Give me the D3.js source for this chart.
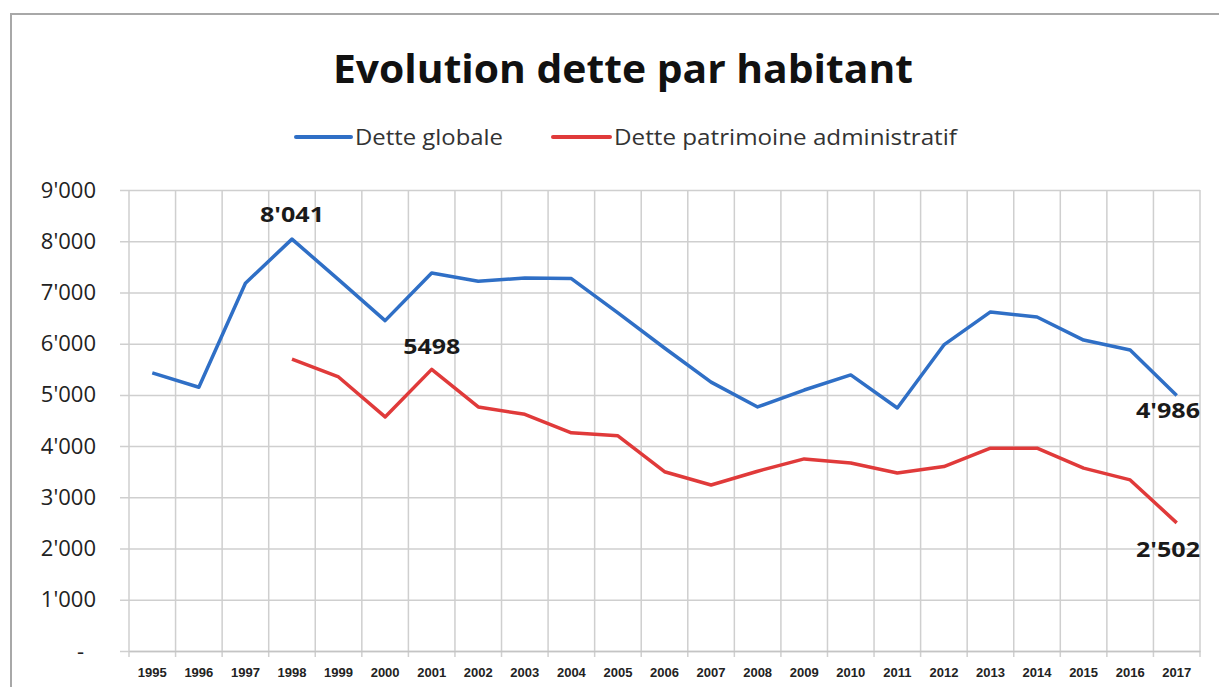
<!DOCTYPE html>
<html><head><meta charset="utf-8">
<script src="https://cdn.jsdelivr.net/npm/d3@7"></script>
<style>html,body{margin:0;padding:0;background:#fff;}svg{display:block;}</style>
</head><body>
<svg id="c" width="1219" height="687"></svg>
<script>
const years = ["1995","1996","1997","1998","1999","2000","2001","2002","2003","2004","2005","2006","2007","2008","2009","2010","2011","2012","2013","2014","2015","2016","2017"];
const detteGlobale = [5430,5150,7180,8041,7250,6450,7380,7220,7280,7270,6600,5915,5250,4765,5095,5390,4745,5975,6620,6520,6070,5875,4986];
const detteAdmin = [null,null,null,5700,5350,4570,5498,4765,4620,4260,4200,3500,3240,3510,3750,3670,3475,3600,3960,3960,3570,3340,2502];
const yTicks = [0,1000,2000,3000,4000,5000,6000,7000,8000,9000];
const seriesNames = ["Dette globale","Dette patrimoine administratif"];
const labels = [
  {series:0, year:"1998", text:"8'041", pos:"above", dy:-17},
  {series:1, year:"2001", text:"5498", pos:"above", dy:-15},
  {series:0, year:"2017", text:"4'986", pos:"right", dy:22},
  {series:1, year:"2017", text:"2'502", pos:"right", dy:34}
];
const colors = ["#2f6fc6","#e03a3a"];

const svg = d3.select("#c");
const fontMain = "'Open Sans','Noto Sans',sans-serif";

// frame
svg.append("rect").attr("x",11).attr("y",14).attr("width",1230).attr("height",700)
  .attr("fill","none").attr("stroke","#a8a8a8").attr("stroke-width",2);

const x = d3.scaleBand().domain(years).range([129,1200]).padding(0);
const y = d3.scaleLinear().domain([0,9000]).range([651,190]);
const cx = d => x(d)+x.bandwidth()/2;

const loc = d3.formatLocale({decimal:".",thousands:"'",grouping:[3],currency:["",""]});
const fmt = loc.format(",.0f");

// horizontal grid + y axis
const gy = svg.append("g").attr("transform","translate(129,0)")
  .call(d3.axisLeft(y).tickValues(yTicks).tickSize(0).tickPadding(33)
    .tickFormat(d => d===0 ? "-" : fmt(d)));
gy.select(".domain").remove();
gy.selectAll(".tick text").attr("font-family",fontMain).attr("font-size",22).attr("fill","#222")
  .attr("dx", d => d===0 ? -12 : 0);
gy.selectAll(".tick").append("line").attr("x1",-9).attr("x2",1071)
  .attr("stroke","#cfcfcf").attr("stroke-width",1.5);

// vertical grid
const vx = years.map(d=>x(d)).concat([1200]);
svg.append("g").selectAll("line").data(vx).join("line")
  .attr("x1",d=>d).attr("x2",d=>d).attr("y1",y(9000)).attr("y2",657)
  .attr("stroke","#cfcfcf").attr("stroke-width",1.5);

// x axis labels
const gx = svg.append("g").attr("transform","translate(0,651)")
  .call(d3.axisBottom(x).tickSize(0).tickPadding(17));
gx.select(".domain").attr("stroke","#c4c4c4").attr("stroke-width",1.5);
gx.selectAll(".tick text").attr("font-family","'Liberation Sans',sans-serif").attr("font-size",13)
  .attr("font-weight","bold").attr("fill","#222");

// lines
const line = d3.line().defined(d=>d.v!=null).x(d=>cx(d.year)).y(d=>y(d.v));
[detteGlobale,detteAdmin].forEach((arr,i)=>{
  svg.append("path").datum(years.map((yr,j)=>({year:yr,v:arr[j]})))
    .attr("d",line).attr("fill","none").attr("stroke",colors[i]).attr("stroke-width",3.5)
    .attr("stroke-linejoin","round");
});

// data labels
const sArr=[detteGlobale,detteAdmin];
labels.forEach(l=>{
  const v = sArr[l.series][years.indexOf(l.year)];
  const right = l.pos==="right";
  const tx = right ? x(l.year)+x.bandwidth() : cx(l.year);
  const t = svg.append("text").attr("x",tx).attr("y",y(v)+l.dy)
    .attr("text-anchor", right ? "end" : "middle")
    .attr("font-family",fontMain).attr("font-weight","bold").attr("font-size",22)
    .attr("fill","#1a1a1a").text(l.text);
  t.attr("textLength", l.text.length===4 ? 57 : 64).attr("lengthAdjust","spacingAndGlyphs");
});

// title
svg.append("text").attr("x",623).attr("y",83).attr("text-anchor","middle")
  .attr("font-family",fontMain).attr("font-weight","bold").attr("font-size",40)
  .attr("fill","#111").attr("textLength",580).attr("lengthAdjust","spacingAndGlyphs")
  .text("Evolution dette par habitant");

// legend
const leg = [{x1:296,x2:351,tx:355,tw:148},{x1:553,x2:610,tx:614,tw:343}];
leg.forEach((L,i)=>{
  svg.append("line").attr("x1",L.x1).attr("x2",L.x2).attr("y1",137).attr("y2",137)
    .attr("stroke",colors[i]).attr("stroke-width",4).attr("stroke-linecap","round");
  svg.append("text").attr("x",L.tx).attr("y",145).attr("font-family",fontMain)
    .attr("font-size",22).attr("fill","#333").attr("textLength",L.tw)
    .attr("lengthAdjust","spacingAndGlyphs").text(seriesNames[i]);
});
</script>
</body></html>
